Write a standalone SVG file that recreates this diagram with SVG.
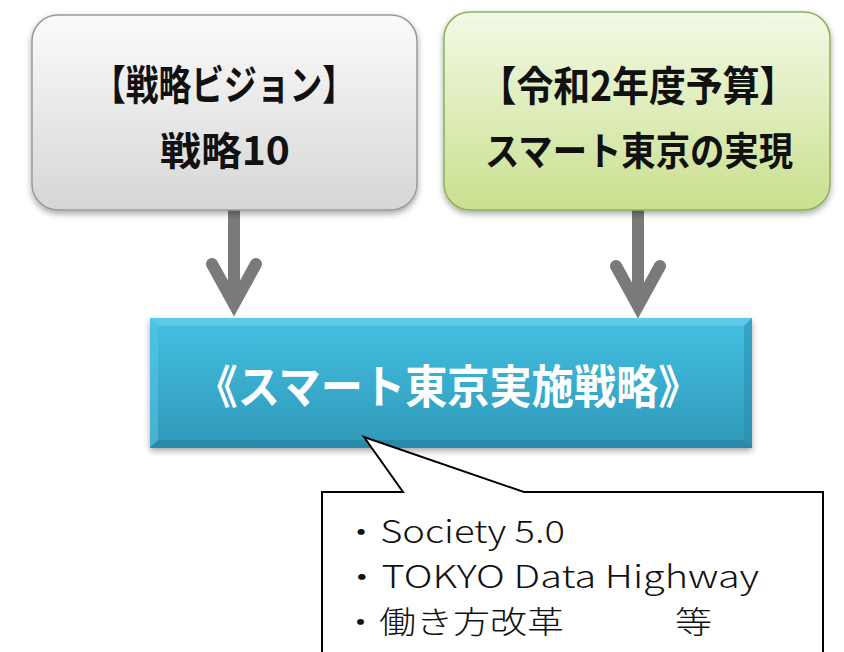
<svg xmlns="http://www.w3.org/2000/svg" width="844" height="652" viewBox="0 0 844 652">
<defs>
<linearGradient id="gGray" x1="0" y1="0" x2="0" y2="1">
<stop offset="0" stop-color="#fbfbfb"/><stop offset="1" stop-color="#d6d6d6"/>
</linearGradient>
<linearGradient id="gGreen" x1="0" y1="0" x2="0" y2="1">
<stop offset="0" stop-color="#f3f9e6"/><stop offset="1" stop-color="#c9e08f"/>
</linearGradient>
<linearGradient id="gBlue" x1="0" y1="0" x2="0" y2="1">
<stop offset="0" stop-color="#44c0e2"/><stop offset="1" stop-color="#2f98b8"/>
</linearGradient>
<filter id="sh" x="-10%" y="-10%" width="120%" height="130%">
<feDropShadow dx="0" dy="3" stdDeviation="3" flood-color="#000" flood-opacity="0.35"/>
</filter>
<style>
.t{font-family:"Noto Sans CJK JP","Noto Sans CJK SC",sans-serif;font-weight:bold;text-anchor:middle;fill:#111}
.w{fill:#ffffff}
.c{font-family:"Noto Sans CJK JP","Noto Sans CJK SC",sans-serif;font-weight:300;font-size:31px;fill:#111}
.arr{stroke:#7a7a7a;stroke-width:12;fill:none;stroke-linecap:round;stroke-linejoin:miter}
</style>
</defs>
<g id="connectors">
<line class="arr" x1="234" y1="210" x2="234" y2="302" style="stroke-linecap:butt"/>
<polyline class="arr" points="212,264 234,304 256,264"/>
<line class="arr" x1="638" y1="210" x2="638" y2="304" style="stroke-linecap:butt"/>
<polyline class="arr" points="616,266 638,306 660,266"/>
</g>
<g id="node-vision">
<rect x="32" y="15" width="385" height="195" rx="26" fill="url(#gGray)" stroke="#9a9a9a" stroke-width="1.5" filter="url(#sh)"/>
<text class="t" x="224" y="100" font-size="41" textLength="262" lengthAdjust="spacingAndGlyphs">【戦略ビジョン】</text>
<text class="t" x="225" y="165" font-size="39" textLength="130" lengthAdjust="spacingAndGlyphs">戦略10</text>
</g>
<g id="node-budget">
<rect x="444" y="12" width="386" height="198" rx="26" fill="url(#gGreen)" stroke="#8fae5c" stroke-width="1.5" filter="url(#sh)"/>
<text class="t" x="638" y="101" font-size="41" textLength="317" lengthAdjust="spacingAndGlyphs">【令和2年度予算】</text>
<text class="t" x="639" y="165" font-size="39" textLength="308" lengthAdjust="spacingAndGlyphs">スマート東京の実現</text>
</g>
<g id="node-strategy">
<rect x="150" y="318" width="602" height="130" fill="url(#gBlue)" filter="url(#sh)"/>
<polygon points="150,318 752,318 744,326 158,326" fill="#6fd2ec" opacity="0.6"/>
<polygon points="150,318 158,326 158,440 150,448" fill="#5cc8e6" opacity="0.5"/>
<polygon points="752,318 752,448 744,440 744,326" fill="#2a8aa8" opacity="0.5"/>
<polygon points="150,448 158,440 744,440 752,448" fill="#24809c" opacity="0.6"/>
<text class="t w" x="448" y="403" font-size="46" textLength="505" lengthAdjust="spacingAndGlyphs">《スマート東京実施戦略》</text>
</g>
<g id="node-callout">
<path d="M322,660 L322,492 L403,492 L364,437 L524,492 L823,492 L823,660" fill="#ffffff" stroke="#000" stroke-width="2"/>
<text class="c" x="342" y="543" textLength="223" lengthAdjust="spacingAndGlyphs">・Society 5.0</text>
<text class="c" x="342" y="588" textLength="417" lengthAdjust="spacingAndGlyphs">・TOKYO Data Highway</text>
<text class="c" x="342" y="633" textLength="370" lengthAdjust="spacingAndGlyphs">・働き方改革　　　等</text>
</g>
</svg>
